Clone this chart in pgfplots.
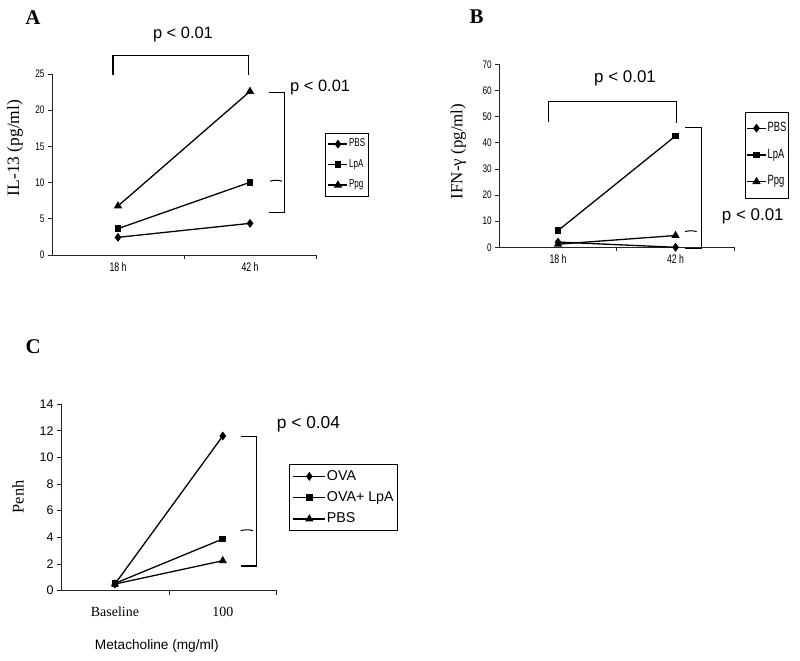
\documentclass[border=0pt]{standalone}
\usepackage{fontspec}
\setmainfont{Liberation Serif}
\newfontfamily\arial{Liberation Sans}
\newfontfamily\narrow[FakeStretch=0.75]{Liberation Sans}
\newfontfamily\narrowx[FakeStretch=0.70]{Liberation Sans}
\usepackage{pgfplots}
\pgfplotsset{compat=1.18}
\pgfplotsset{
  base/.style={
    scale only axis, anchor=south west,
    axis x line*=bottom, axis y line*=left,
    xmin=0, xmax=2, ymin=0,
    tick align=outside, major tick length=4bp,
    xtick={0.5,1.5}, xtick style={draw=none},
    ytick style={black!85, line width=0.7bp},
    axis line style={black!85, line width=0.8bp},
    clip=false,
    /pgf/number format/assume math mode=true,
    legend cell align=left,
  },
  s1/.style={black, line width=1.3bp, mark=diamond*, mark size=3.4bp, mark options={solid}},
  s2/.style={black, line width=1.3bp, mark=square*, mark size=2.7bp, mark options={solid}},
  s3/.style={black, line width=1.3bp, mark=triangle*, mark size=3.5bp, mark options={solid}},
}
\begin{document}
\begin{tikzpicture}
\useasboundingbox (0bp,0bp) rectangle (800bp,661bp);

% ---------- Panel A ----------
\begin{axis}[base, at={(52bp,406bp)}, width=264bp, height=181bp,
  ymax=25, ytick={0,5,...,25},
  xticklabels={18 h,42 h},
  yticklabel style={font=\narrow\fontsize{11}{12}\selectfont},
  xticklabel style={font=\narrowx\fontsize{12.5}{13}\selectfont},
  ylabel={IL-13 (pg/ml)},
  ylabel style={at={(rel axis cs:-0.14,0.591)}, anchor=center, font=\fontsize{17.5}{20}\selectfont},
  legend image code/.code={\draw[mark repeat=2,mark phase=2,#1] plot coordinates {(0bp,0bp) (9.5bp,0bp) (19bp,0bp)};},
  legend style={at={(axis cs:2.068,16.85)}, anchor=north west, draw=black, line width=0.7bp,
    inner xsep=2.5bp, inner ysep=5bp, row sep=9bp,
    font=\narrowx\fontsize{11.5}{12}\selectfont,
    nodes={inner sep=1bp, text height=7.5bp, text depth=2bp}},
]
\addplot[s1] coordinates {(0.5,2.44) (1.5,4.37)};
\addplot[s2] coordinates {(0.5,3.64) (1.5,10.04)};
\addplot[s3] coordinates {(0.5,6.77) (1.5,22.6)};
\legend{PBS,LpA,Ppg}
\draw[black!85, line width=0.7bp] (axis cs:1,0) -- ++(0bp,-4bp);
\draw[black!85, line width=0.7bp] (axis cs:2,0) -- ++(0bp,-4bp);
\draw[line width=1.1bp] (axis cs:0.462,24.9) -- (axis cs:0.462,27.6) -- (axis cs:1.492,27.6) -- (axis cs:1.492,24.9);
\node[font=\arial\fontsize{16.5}{18}\selectfont] at (axis cs:0.992,30.4) {p < 0.01};
\draw[line width=1.1bp] (axis cs:1.644,22.5) -- (axis cs:1.758,22.5) -- (axis cs:1.758,5.9) -- (axis cs:1.644,5.9);
\draw[line width=1bp] (axis cs:1.652,10.2) to[bend left=15] (axis cs:1.742,10.2);
\node[font=\arial\fontsize{16.5}{18}\selectfont, anchor=west, inner sep=0pt] at (axis cs:1.803,23.07) {p < 0.01};
\end{axis}

% ---------- Panel B ----------
\begin{axis}[base, at={(499.3bp,413.7bp)}, width=235bp, height=183bp,
  ymax=70, ytick={0,10,...,70},
  xticklabels={18 h,42 h},
  yticklabel style={font=\narrow\fontsize{11}{12}\selectfont},
  xticklabel style={font=\narrowx\fontsize{12.5}{13}\selectfont},
  ylabel={IFN-γ (pg/ml)},
  ylabel style={at={(rel axis cs:-0.1745,0.524)}, anchor=center, font=\fontsize{17}{20}\selectfont},
  legend image code/.code={\draw[mark repeat=2,mark phase=2,#1] plot coordinates {(0bp,0bp) (9.5bp,0bp) (19bp,0bp)};},
  legend style={at={(axis cs:2.091,51.9)}, anchor=north west, draw=black, line width=0.7bp,
    inner xsep=1bp, inner ysep=9.5bp, row sep=13.2bp,
    font=\narrowx\fontsize{13.5}{14}\selectfont,
    nodes={inner sep=1bp, text height=9bp, text depth=2.5bp}},
]
\addplot[s1] coordinates {(0.5,2.0) (1.5,0.0)};
\addplot[s2] coordinates {(0.5,6.4) (1.5,42.6)};
\addplot[s3] coordinates {(0.5,1.2) (1.5,4.5)};
\legend{PBS,LpA,Ppg}
\draw[black!85, line width=0.7bp] (axis cs:1,0) -- ++(0bp,-4bp);
\draw[black!85, line width=0.7bp] (axis cs:2,0) -- ++(0bp,-4bp);
\draw[line width=1.1bp] (axis cs:0.417,48.0) -- (axis cs:0.417,55.7) -- (axis cs:1.51,55.7) -- (axis cs:1.51,47.6);
\node[font=\arial\fontsize{17}{19}\selectfont] at (axis cs:1.07,64.6) {p < 0.01};
\draw[line width=1.1bp] (axis cs:1.582,45.9) -- (axis cs:1.723,45.9) -- (axis cs:1.723,-0.38) -- (axis cs:1.582,-0.38);
\draw[line width=1bp] (axis cs:1.582,6.0) to[bend left=15] (axis cs:1.68,6.0);
\node[font=\arial\fontsize{17}{19}\selectfont, anchor=west, inner sep=0pt] at (axis cs:1.893,12.0) {p < 0.01};
\end{axis}

% ---------- Panel C ----------
\begin{axis}[base, at={(61bp,70.3bp)}, width=215.7bp, height=186.7bp,
  ymax=14, ytick={0,2,...,14},
  xticklabels={Baseline,100},
  yticklabel style={font=\arial\fontsize{12.5}{14}\selectfont},
  xticklabel style={font=\fontsize{14}{16}\selectfont, yshift=-9bp},
  ylabel={Penh},
  ylabel style={at={(rel axis cs:-0.199,0.502)}, anchor=center, font=\fontsize{16.5}{19}\selectfont},
  xlabel={Metacholine (mg/ml)},
  xlabel style={at={(rel axis cs:0.444,-0.298)}, anchor=center, font=\arial\fontsize{13.7}{16}\selectfont},
  legend image code/.code={\draw[mark repeat=2,mark phase=2,#1] plot coordinates {(0bp,0bp) (16bp,0bp) (32bp,0bp)};},
  legend style={at={(axis cs:2.117,9.48)}, anchor=north west, draw=black, line width=0.7bp,
    inner xsep=3bp, inner ysep=4bp, row sep=5.8bp,
    font=\arial\fontsize{14.3}{16}\selectfont,
    nodes={inner sep=1bp, text height=10.5bp, text depth=3bp}},
]
\addplot[s1] coordinates {(0.5,0.5) (1.5,11.6)};
\addplot[s2] coordinates {(0.5,0.55) (1.5,3.88)};
\addplot[s3] coordinates {(0.5,0.5) (1.5,2.25)};
\legend{OVA,OVA+ LpA,PBS}
\draw[black!85, line width=0.7bp] (axis cs:1,0) -- ++(0bp,-4bp);
\draw[black!85, line width=0.7bp] (axis cs:2,0) -- ++(0bp,-4bp);
\draw[line width=1.1bp] (axis cs:1.666,11.55) -- (axis cs:1.815,11.55) -- (axis cs:1.815,1.85) -- (axis cs:1.666,1.85);
\draw[line width=1bp] (axis cs:1.666,4.5) to[bend left=15] (axis cs:1.78,4.5);
\node[font=\arial\fontsize{17.4}{19}\selectfont, anchor=west, inner sep=0pt] at (axis cs:2.0,12.5) {p < 0.04};
\end{axis}

\node[font=\bfseries\fontsize{21}{24}\selectfont] at (33bp,643bp) {A};
\node[font=\bfseries\fontsize{21}{24}\selectfont] at (476.7bp,644.3bp) {B};
\node[font=\bfseries\fontsize{21}{24}\selectfont] at (33.3bp,314.3bp) {C};
\end{tikzpicture}
\end{document}
